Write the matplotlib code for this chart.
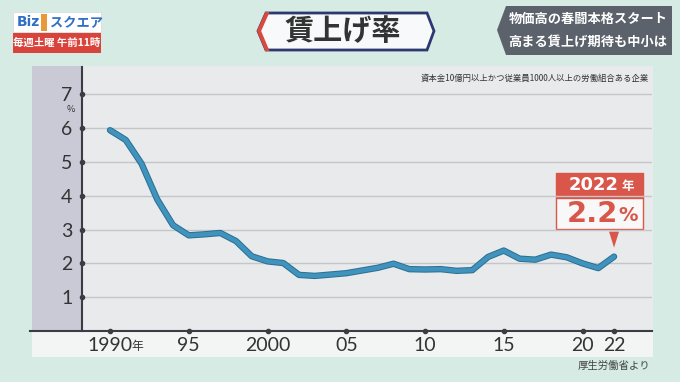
import matplotlib
matplotlib.use('Agg')
import matplotlib.pyplot as plt
from matplotlib.patches import Rectangle, Polygon

plt.rcParams['font.family'] = ['Noto Sans CJK JP', 'DejaVu Sans']

# 賃上げ率 (%), 厚生労働省
years = list(range(1990, 2023))
rate = [5.94, 5.65, 4.95, 3.89, 3.13, 2.83, 2.86, 2.90, 2.66, 2.21,
        2.06, 2.01, 1.66, 1.63, 1.67, 1.71, 1.79, 1.87, 1.99, 1.83,
        1.82, 1.83, 1.78, 1.80, 2.19, 2.38, 2.14, 2.11, 2.26, 2.18,
        2.00, 1.86, 2.20]
xticks = [1990, 1995, 2000, 2005, 2010, 2015, 2020, 2022]
xticklabels = ['1990', '95', '2000', '05', '10', '15', '20', '22']
yticks = [1, 2, 3, 4, 5, 6, 7]

W, H = 680, 382
fig = plt.figure(figsize=(W / 100, H / 100), dpi=100)
fig.patch.set_facecolor('#d5ebe3')

# overlay in pixel coords for the TV frame
bg = fig.add_axes([0, 0, 1, 1])
bg.set_xlim(0, W)
bg.set_ylim(H, 0)
bg.axis('off')

# panel
bg.add_patch(Rectangle((32, 66), 621, 291, facecolor='#e8eaeb', edgecolor='none'))
bg.add_patch(Rectangle((32, 66), 50, 265, facecolor='#c9cad6', edgecolor='none'))
bg.add_patch(Rectangle((32, 331), 621, 26, facecolor='#f3f4f4', edgecolor='none'))
bg.plot([30, 652], [331, 331], color='#3a3d45', lw=1.5)

# logo
bg.add_patch(Rectangle((13, 12), 88, 20, facecolor='white', edgecolor='#d8d8d8', lw=0.5))
bg.text(17, 22, 'Biz', color='#2f6fc4', fontsize=10, fontweight='bold', va='center', ha='left',
        family=['DejaVu Sans'])
bg.add_patch(Rectangle((41, 14), 6, 17, facecolor='#e89a3a', edgecolor='none'))
bg.text(50, 22, 'スクエア', color='#2f6fc4', fontsize=9.5, fontweight='bold', va='center', ha='left')
bg.add_patch(Rectangle((13, 33), 88, 20, facecolor='#d8443c', edgecolor='none'))
bg.text(57, 43, '毎週土曜 午前11時', color='white', fontsize=7.5, fontweight='bold',
        va='center', ha='center')

# title box
hexa = [(258, 31), (266, 13), (427, 13), (434, 31), (427, 50), (266, 50)]
bg.add_patch(Polygon(hexa, closed=True, facecolor='#f8f9fa', edgecolor='#2e3870', lw=2))
bg.add_patch(Polygon([(258, 31), (266, 13), (268, 13), (260, 31), (268, 50), (266, 50)],
                     closed=True, facecolor='#d9493d', edgecolor='#d9493d', lw=1.5))
bg.text(343, 31, '賃上げ率', color='#333333', fontsize=21, fontweight='bold',
        va='center', ha='center')

# right caption box
bg.add_patch(Polygon([(497, 30), (506, 6), (672, 6), (672, 55), (506, 55)],
                     closed=True, facecolor='#5b626b', edgecolor='none'))
bg.text(588, 19, '物価高の春闘本格スタート', color='white', fontsize=9.5,
        fontweight='bold', va='center', ha='center')
bg.text(588, 42, '高まる賃上げ期待も中小は', color='white', fontsize=9.5,
        fontweight='bold', va='center', ha='center')

# data axes
x0, x1, y0, y1 = 82, 652, 67, 331
ax = fig.add_axes([x0 / W, (H - y1) / H, (x1 - x0) / W, (y1 - y0) / H])
ax.patch.set_alpha(0)
ax.set_xlim(1988.22, 2024.41)
ax.set_ylim(0, 7.81)
for s in ['top', 'right', 'bottom']:
    ax.spines[s].set_visible(False)
ax.spines['left'].set_color('#3a3d45')
ax.spines['left'].set_linewidth(1.5)

ax.set_yticks(yticks)
ax.set_yticklabels([str(v) for v in yticks], fontsize=14, color='#333333')
ax.tick_params(axis='y', length=0, pad=7)
ax.set_xticks(xticks)
ax.set_xticklabels(xticklabels, fontsize=14, color='#333333')
ax.tick_params(axis='x', length=0, pad=4)
for lab in ax.get_xticklabels() + ax.get_yticklabels():
    lab.set_fontfamily(['Lato', 'DejaVu Sans'])
ax.grid(axis='y', color='#c4c6c9', lw=1)
ax.set_axisbelow(True)

ax.plot([ax.get_xlim()[0]] * len(yticks), yticks, 'o', ms=3, color='#3a3d45', clip_on=False)
ax.plot(xticks, [0] * len(xticks), 'o', ms=3, color='#3a3d45', clip_on=False)

ax.annotate('年', xy=(1990, 0), xytext=(15.5, -11), textcoords='offset points',
            fontsize=8.5, color='#333333', ha='left', va='center', annotation_clip=False)
ax.annotate('%', xy=(ax.get_xlim()[0], 7), xytext=(-8, -11), textcoords='offset points',
            fontsize=6.5, color='#333333', ha='center', va='center', annotation_clip=False)

ax.plot(years, rate, color='#2b6e92', lw=4.6, solid_capstyle='round', solid_joinstyle='round')
ax.plot(years, rate, color='#3f93bd', lw=3.2, solid_capstyle='round', solid_joinstyle='round')

ax.text(0.995, 0.975, '資本金10億円以上かつ従業員1000人以上の労働組合ある企業',
        transform=ax.transAxes, fontsize=6, color='#333333', ha='right', va='top')

bg.text(650, 366, '厚生労働省より', color='#444444', fontsize=7.5, ha='right', va='center')

# callout anchored to the last point
fig.canvas.draw()
px, py = ax.transData.transform((years[-1], rate[-1]))
py = H - py
red = '#d9574a'
bg.add_patch(Rectangle((px - 58, py - 84), 87, 25, facecolor=red, edgecolor=red, lw=1))
bg.add_patch(Rectangle((px - 58, py - 59), 87, 31, facecolor='#f8f8f8', edgecolor=red, lw=1))
bg.add_patch(Polygon([(px - 5, py - 25), (px + 5, py - 25), (px, py - 9)],
                     closed=True, facecolor=red, edgecolor='none'))
bg.text(px - 20, py - 71.5, '2022', color='white', fontsize=13, fontweight='bold',
        ha='center', va='center', family=['DejaVu Sans'])
bg.text(px + 14, py - 70.5, '年', color='white', fontsize=9, fontweight='bold',
        ha='center', va='center')
bg.text(px - 22, py - 43, '2.2', color=red, fontsize=21, fontweight='bold',
        ha='center', va='center', family=['DejaVu Sans'])
bg.text(px + 14, py - 41, '%', color=red, fontsize=14, fontweight='bold',
        ha='center', va='center', family=['DejaVu Sans'])

fig.savefig('out.png', dpi=100, facecolor=fig.get_facecolor())
